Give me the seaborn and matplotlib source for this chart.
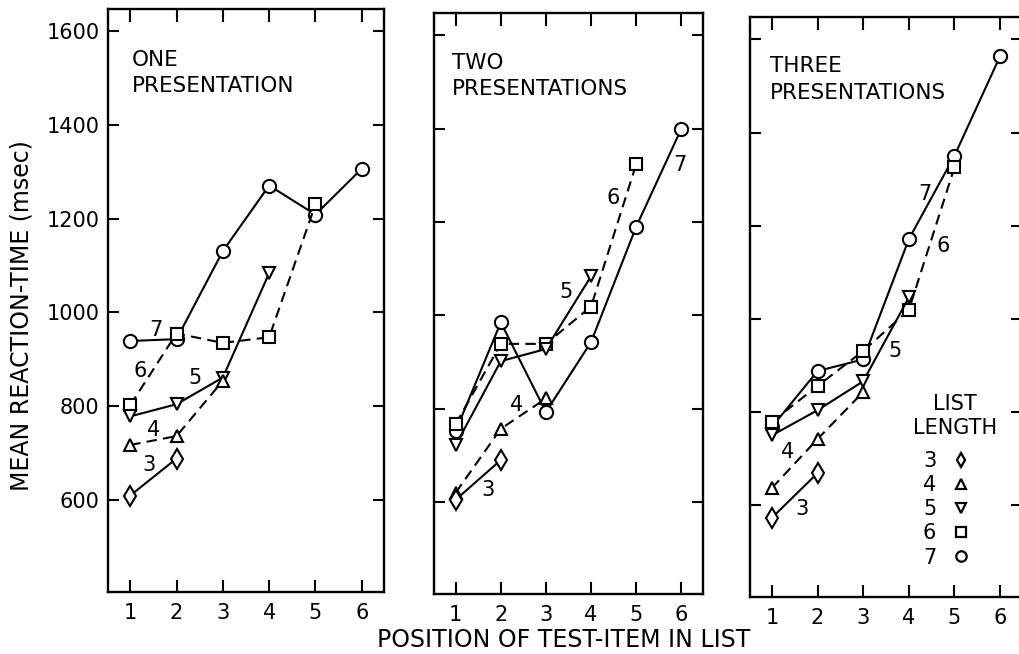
import matplotlib
matplotlib.use("Agg")
import matplotlib.pyplot as plt
import seaborn as sns
import pandas as pd
from matplotlib.lines import Line2D

# ---------------- data ----------------
positions = [1, 2, 3, 4, 5, 6]
list_lengths = [3, 4, 5, 6, 7]
panel_titles = ["ONE\nPRESENTATION", "TWO\nPRESENTATIONS", "THREE\nPRESENTATIONS"]
y_ticks = [600, 800, 1000, 1200, 1400, 1600]

# one presentation
one_l3 = [609, 688]
one_l4 = [717, 736, 854]
one_l5 = [778, 804, 861, 1084]
one_l6 = [802, 955, 935, 947, 1231]
one_l7 = [939, 943, 1131, 1271, 1209, 1307]

# two presentations
two_l3 = [605, 690]
two_l4 = [620, 757, 822]
two_l5 = [722, 902, 928, 1084]
two_l6 = [767, 939, 939, 1019, 1324]
two_l7 = [752, 985, 793, 943, 1190, 1400]

# three presentations
three_l3 = [573, 669]
three_l4 = [637, 742, 843]
three_l5 = [750, 804, 866, 1046]
three_l6 = [779, 856, 931, 1019, 1325]
three_l7 = [768, 888, 913, 1171, 1350, 1564]

panels = [
    [one_l3, one_l4, one_l5, one_l6, one_l7],
    [two_l3, two_l4, two_l5, two_l6, two_l7],
    [three_l3, three_l4, three_l5, three_l6, three_l7],
]

rows = []
for p, series in enumerate(panels):
    for length, vals in zip(list_lengths, series):
        for pos, v in zip(positions, vals):
            rows.append({"panel": p, "length": length, "position": pos, "rt": v})
df = pd.DataFrame(rows)

# ---------------- styles ----------------
markers = {3: "d", 4: "^", 5: "v", 6: "s", 7: "o"}
msizes = {3: 10, 4: 9, 5: 9, 6: 8.5, 7: 9.5}
dashed = (0, (5, 3))
lstyles = {3: "-", 4: dashed, 5: "-", 6: dashed, 7: "-"}

# curve-number annotations (x, y in data units) per panel
curve_labels = [
    {7: (1.56, 963), 6: (1.21, 876), 5: (2.40, 859), 4: (1.50, 750), 3: (1.40, 674)},
    {7: (5.96, 1323), 6: (4.48, 1252), 5: (3.45, 1051), 4: (2.35, 807), 3: (1.72, 626)},
    {7: (4.36, 1268), 6: (4.75, 1156), 5: (3.70, 930), 4: (1.35, 714), 3: (1.67, 591)},
]

sns.set_theme(style="white")
plt.rcParams["font.family"] = ["DejaVu Sans"]
plt.rcParams["text.color"] = "black"
plt.rcParams["axes.labelcolor"] = "black"
plt.rcParams["xtick.color"] = "black"
plt.rcParams["ytick.color"] = "black"

W, H = 1019, 654
fig = plt.figure(figsize=(W / 100, H / 100), dpi=100)

# axes boxes in pixels: left, top, right, bottom
boxes = [(108, 9, 384, 592), (434, 13, 703, 594), (750, 17, 1022, 597)]
axes = []
for (l, t, r, b) in boxes:
    ax = fig.add_axes([l / W, 1 - b / H, (r - l) / W, (b - t) / H])
    axes.append(ax)

title_pos = [(0.087, 0.930), (0.067, 0.932), (0.074, 0.932)]

for p, ax in enumerate(axes):
    sub_p = df[df["panel"] == p]
    for length in [7, 6, 5, 4, 3]:
        sub = sub_p[sub_p["length"] == length]
        sns.lineplot(
            data=sub, x="position", y="rt", ax=ax, estimator=None,
            color="black", linewidth=1.5, linestyle=lstyles[length],
            marker=markers[length], markersize=msizes[length],
            markerfacecolor="white", markeredgecolor="black",
            markeredgewidth=1.5, legend=False,
        )
    for length, (lx, ly) in curve_labels[p].items():
        ax.text(lx, ly, str(length), fontsize=15, ha="center", va="center",
                color="black")
    ax.text(title_pos[p][0], title_pos[p][1], panel_titles[p],
            transform=ax.transAxes, ha="left", va="top", fontsize=15.5,
            linespacing=1.4, color="black")

    ax.set_xlim(0.52, 6.48)
    ax.set_ylim(403, 1648)
    ax.set_xticks(positions)
    ax.set_xticklabels([str(v) for v in positions])
    ax.set_yticks(y_ticks)
    if p == 0:
        ax.set_yticklabels([str(v) for v in y_ticks])
    else:
        ax.set_yticklabels([])
    ax.set_xlabel("")
    ax.set_ylabel("")
    ax.tick_params(axis="x", direction="in", length=9, width=1.5,
                   top=True, bottom=True, labelsize=15, pad=8, colors="black")
    ax.tick_params(axis="y", direction="in", length=8, width=1.5,
                   left=True, right=True, labelsize=15, pad=6, colors="black")
    for s in ax.spines.values():
        s.set_visible(True)
        s.set_linewidth(1.7)
        s.set_color("black")
    ax.set_facecolor("white")
    ax.grid(False)

# legend in third panel (title drawn as separate text for exact spacing)
handles = [Line2D([], [], marker=markers[k], linestyle="none", markersize=7.5,
                  markerfacecolor="white", markeredgecolor="black",
                  markeredgewidth=1.6) for k in list_lengths]
leg = axes[2].legend(handles, [str(k) for k in list_lengths],
                     markerfirst=False, frameon=False,
                     loc="upper center", bbox_to_anchor=(0.725, 0.252),
                     fontsize=15, labelspacing=0.2,
                     handlelength=1.0, handletextpad=0.7, borderpad=0,
                     borderaxespad=0)
for t in leg.get_texts():
    t.set_color("black")
axes[2].text(0.754, 0.350, "LIST\nLENGTH", transform=axes[2].transAxes,
             ha="center", va="top", multialignment="center", fontsize=15,
             linespacing=1.25, color="black")

fig.text(0.021, 0.518, "MEAN REACTION-TIME (msec)", rotation=90,
         ha="center", va="center", fontsize=17, color="black")
fig.text(0.553, 0.021, "POSITION OF TEST-ITEM IN LIST", ha="center",
         va="center", fontsize=17, color="black")

fig.savefig("out.png", dpi=100, facecolor="white")
